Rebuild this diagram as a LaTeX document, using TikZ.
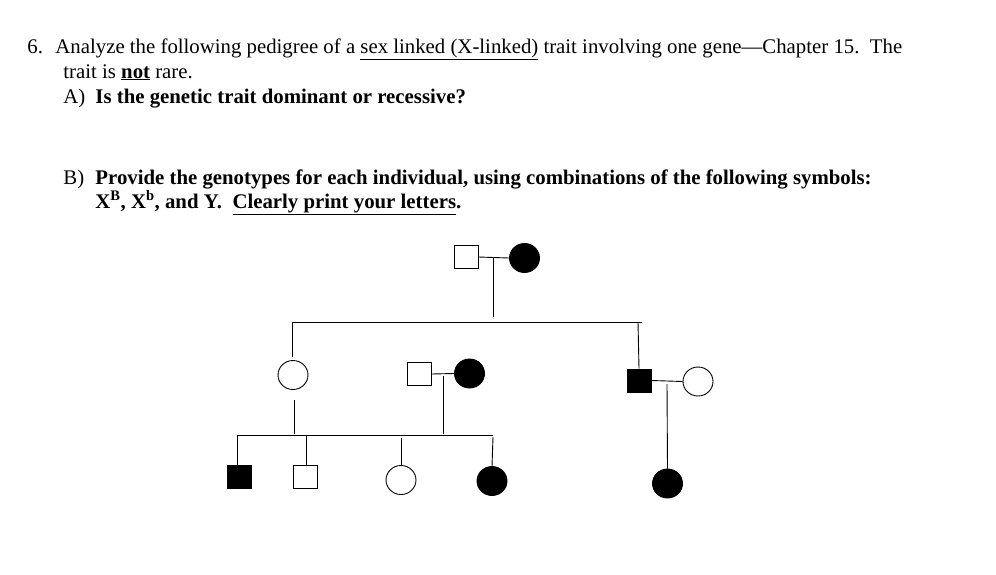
\documentclass[tikz,border=0pt]{standalone}
\usepackage{fontspec}
\setmainfont{Liberation Serif}
\usetikzlibrary{shapes.geometric}
\begin{document}
\begin{tikzpicture}[x=1pt,y=-1pt,line width=0.9pt,
  txt/.style={anchor=base west,inner sep=0pt,font=\fontsize{20.8}{23}\selectfont},
  msq/.style={draw,minimum width=24pt,minimum height=23pt,inner sep=0pt},
  fcirc/.style={draw,ellipse,minimum width=30pt,minimum height=29pt,inner sep=0pt},
  aff/.style={fill=black}]
\useasboundingbox (0,0) rectangle (996,574);
\node[txt] (t1a) at (27,53) {6.};
\node[txt] (t1) at (55,53) {Analyze the following pedigree of a \underline{sex linked (X-linked)} trait involving one gene—Chapter 15.\ \ The};
\node[txt] (t2) at (63,78) {trait is \underline{\textbf{not}} rare.};
\node[txt] (ta) at (63,103) {A)};
\node[txt] (ta2) at (95,103) {\textbf{Is the genetic trait dominant or recessive?}};
\node[txt] (tb) at (63,184) {B)};
\node[txt] (tb2) at (95,184) {\textbf{Provide the genotypes for each individual, using combinations of the following symbols:}};
\node[txt] (tb3) at (95,208) {\textbf{X\textsuperscript{B}, X\textsuperscript{b}, and Y.\ \ \underline{Clearly print your letters}.}};
% individuals
\node[msq] (i1) at (466,257) {};
\node[fcirc,aff] (i2) at (524.5,258) {};
\node[fcirc] (ii1) at (293,375) {};
\node[msq] (ii2) at (419,374) {};
\node[fcirc,aff] (ii3) at (469.5,373.5) {};
\node[msq,aff] (ii4) at (639,380.5) {};
\node[fcirc] (ii5) at (698,381.5) {};
\node[msq,aff] (iii1) at (239.5,476.5) {};
\node[msq] (iii2) at (305,477) {};
\node[fcirc] (iii3) at (401,480) {};
\node[fcirc,aff] (iii4) at (492,481) {};
\node[fcirc,aff] (iii5) at (667.5,483.5) {};
% lines
\coordinate (m1) at (493,258);
\coordinate (s1) at (493,317);
\coordinate (sl) at (292,322);
\coordinate (sr) at (642,322);
\draw (i1.east) -- (i2.west);
\draw (m1) -- (s1);
\draw (sl) -- (sr);
\draw (292,322) -- (292,357);
\draw (638,322) -- (ii4.north);
\draw (ii2.east) -- (ii3.west);
\coordinate (m2) at (443,376);
\draw (m2) -- (443,434);
\draw (ii4.east) -- (ii5.west);
\draw (667,384) -- (iii5.north);
\draw (294,400) -- (294,434);
\draw (237,435) -- (493,435);
\draw (237,435) -- (237,465);
\draw (306,435) -- (306,466);
\draw (401,438) -- (iii3.north);
\draw (493,437) -- (iii4.north);
\end{tikzpicture}
\end{document}
